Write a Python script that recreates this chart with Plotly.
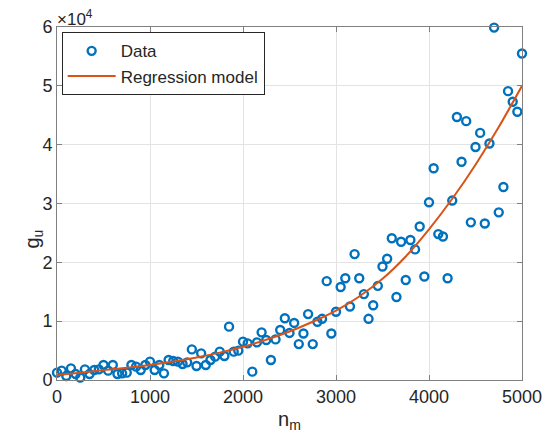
import plotly.graph_objects as go

n_m = [0, 50, 100, 150, 200, 250, 300, 350, 400, 450,
       500, 550, 600, 650, 700, 750, 800, 850, 900, 950,
       1000, 1050, 1100, 1150, 1200, 1250, 1300, 1350, 1400, 1450,
       1500, 1550, 1600, 1650, 1700, 1750, 1800, 1850, 1900, 1950,
       2000, 2050, 2100, 2150, 2200, 2250, 2300, 2350, 2400, 2450,
       2500, 2550, 2600, 2650, 2700, 2750, 2800, 2850, 2900, 2950,
       3000, 3050, 3100, 3150, 3200, 3250, 3300, 3350, 3400, 3450,
       3500, 3550, 3600, 3650, 3700, 3750, 3800, 3850, 3900, 3950,
       4000, 4050, 4100, 4150, 4200, 4250, 4300, 4350, 4400, 4450,
       4500, 4550, 4600, 4650, 4700, 4750, 4800, 4850, 4900, 4950,
       5000]
g_u = [1250, 1590, 680, 1980, 1020, 400, 1810, 1020, 1700, 1810,
       2550, 1590, 2550, 1020, 1130, 1250, 2550, 2270, 1700, 2550,
       3120, 1700, 2550, 1130, 3400, 3230, 3120, 2720, 3000, 5200,
       2380, 4530, 2550, 3400, 3970, 4820, 4080, 9070, 4820, 4990,
       6520, 6230, 1420, 6400, 8100, 6800, 3400, 6900, 8500, 10500,
       8000, 9700, 6100, 7900, 11200, 6100, 9900, 10400, 16800, 7900,
       11600, 15800, 17300, 12500, 21400, 17300, 14600, 10400, 12700, 16000,
       19300, 20600, 24100, 14100, 23500, 17000, 23800, 22200, 26100, 17600,
       30200, 36000, 24800, 24400, 17300, 30500, 44700, 37100, 44000, 26800,
       39600, 42000, 26600, 40200, 59900, 28500, 32800, 49100, 47300, 45600,
       55500]

# Regression model curve
model_x = [0, 250, 500, 750, 1000, 1250, 1500, 1750, 2000, 2250, 2500,
           2750, 3000, 3250, 3500, 3750, 4000, 4250, 4500, 4750, 5000]
model_y = [850, 1250, 1680, 2100, 2560, 3130, 3820, 4650, 5650, 6850, 8250,
           9900, 11800, 14200, 17200, 21000, 25600, 30800, 36600, 43000, 50000]

x_ticks = [0, 1000, 2000, 3000, 4000, 5000]
y_ticks = [0, 10000, 20000, 30000, 40000, 50000, 60000]
y_ticklabels = ["0", "1", "2", "3", "4", "5", "6"]

FONT = "Liberation Sans, Arial, Helvetica, sans-serif"
TXT = "#262626"
AX = "#808080"

fig = go.Figure()
fig.add_trace(go.Scatter(
    x=n_m, y=g_u, mode="markers", name="Data", cliponaxis=False,
    marker=dict(symbol="circle-open", size=8, color="#0072BD",
                line=dict(width=2.4, color="#0072BD")),
))
fig.add_trace(go.Scatter(
    x=model_x, y=model_y, mode="lines", name="Regression model",
    line=dict(color="#D95319", width=2, shape="spline"),
))

axis_common = dict(
    showgrid=True, gridcolor="#e3e3e3", gridwidth=1,
    showline=True, linecolor=AX, linewidth=1, mirror="all",
    ticks="inside", ticklen=5, tickcolor=AX,
    zeroline=False, automargin=False,
    tickfont=dict(family=FONT, size=18, color=TXT),
)

# page body has an 8px margin: size the figure to fit the 551x442 window
fig.update_layout(
    width=543, height=434,
    margin=dict(l=49, r=29, t=19, b=62),
    paper_bgcolor="white", plot_bgcolor="white",
    font=dict(family=FONT, color=TXT),
    xaxis=dict(range=[0, 5000], tickvals=x_ticks,
               title=dict(text="n<sub>m</sub>", font=dict(family=FONT, size=20, color=TXT), standoff=6),
               **axis_common),
    yaxis=dict(range=[0, 60000], tickvals=y_ticks, ticktext=y_ticklabels,
               **axis_common),
    legend=dict(x=0.01, y=0.985, xanchor="left", yanchor="top",
                bgcolor="white", bordercolor=TXT, borderwidth=1,
                font=dict(family=FONT, size=17, color=TXT),
                itemwidth=48, tracegroupgap=0),
    showlegend=True,
    annotations=[
        dict(text="×10<sup>4</sup>", xref="paper", yref="paper",
             x=0, y=1, xanchor="left", yanchor="bottom", showarrow=False,
             xshift=-2, yshift=-4,
             font=dict(family=FONT, size=17, color=TXT)),
        dict(text="g<sub>u</sub>", xref="paper", yref="paper",
             x=-0.05, y=0.40, xanchor="center", yanchor="middle",
             textangle=-90, showarrow=False,
             font=dict(family=FONT, size=20, color=TXT)),
    ],
)

fig.write_html("out.html")
